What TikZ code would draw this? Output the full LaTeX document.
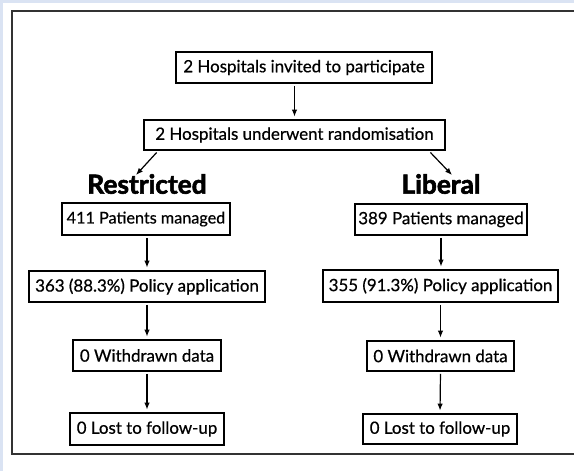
\documentclass[tikz,border=0pt]{standalone}
\usepackage{fontspec}
\setmainfont{Lato}
\newfontfamily\bodyfont[FakeBold=0.6]{Lato}
\newfontfamily\heavyfont[BoldFeatures={FakeBold=2.2}]{Lato}
\usetikzlibrary{arrows.meta,calc}
\definecolor{bgblue}{HTML}{DAE3F3}
\definecolor{framegray}{HTML}{333333}
\tikzset{
  box/.style={draw=black,line width=1.8pt,fill=white,inner sep=0pt,font=\bodyfont\fontsize{16.9}{19}\selectfont},
  grp/.style={inner sep=0pt,font=\heavyfont\fontsize{26.3}{29}\selectfont\bfseries},
  arr/.style={line width=1.2pt,-{Latex[length=7pt,width=5.5pt]},shorten <=2pt,shorten >=2.5pt}
}
\begin{document}
\begin{tikzpicture}[x=1pt,y=-1pt]
\useasboundingbox (0,0) rectangle (574,471);
\fill[bgblue] (0,0) rectangle (574,471);
\fill[white] (3,3) rectangle (574,471);
\draw[framegray,line width=2pt] (580,10.5) -- (12,10.5) -- (12,453.5) -- (580,453.5);

\node[box,minimum width=256pt,minimum height=31pt] (b1) at (304,67.5) {2 Hospitals invited to participate};
\node[box,minimum width=301pt,minimum height=30pt] (b2) at (294.5,135) {2 Hospitals underwent randomisation};

\node[grp] (rL) at (147,184) {Restricted};
\node[grp] (lL) at (441,184) {Liberal};

\node[box,minimum width=168pt,minimum height=32pt,font=\bodyfont\fontsize{16.2}{19}\selectfont] (pL) at (146,219) {411 Patients managed};
\node[box,minimum width=172pt,minimum height=31pt] (pR) at (441,219.5) {389 Patients managed};
\node[box,minimum width=236pt,minimum height=31pt] (aL) at (147,286.5) {363 (88.3\%) Policy application};
\node[box,minimum width=235pt,minimum height=32pt] (aR) at (440.5,286) {355 (91.3\%) Policy application};
\node[box,minimum width=148pt,minimum height=31pt] (wL) at (147,355.5) {0 Withdrawn data};
\node[box,minimum width=147pt,minimum height=30pt] (wR) at (440.5,356) {0 Withdrawn data};
\node[box,minimum width=154pt,minimum height=32pt] (fL) at (147,429) {0 Lost to follow-up};
\node[box,minimum width=154pt,minimum height=30pt] (fR) at (440,429) {0 Lost to follow-up};

\coordinate (sL) at (158,151);
\coordinate (eL) at (136,175);
\coordinate (sR) at (429,151);
\coordinate (eR) at (452,175);

\draw[arr] (b1.south -| b2.north) -- (b2.north);
\draw[arr,shorten >=0pt] (sL) -- (eL);
\draw[arr,shorten >=0pt] (sR) -- (eR);
\draw[arr] (pL.south -| aL.north) -- (aL.north);
\draw[arr] (pR.south) -- (pR.south |- aR.north);
\draw[arr] (aL.south) -- (wL.north);
\draw[arr] (aR.south) -- (wR.north);
\draw[arr] (wL.south) -- (fL.north);
\draw[arr] (wR.south) -- (fR.north);
\end{tikzpicture}
\end{document}
